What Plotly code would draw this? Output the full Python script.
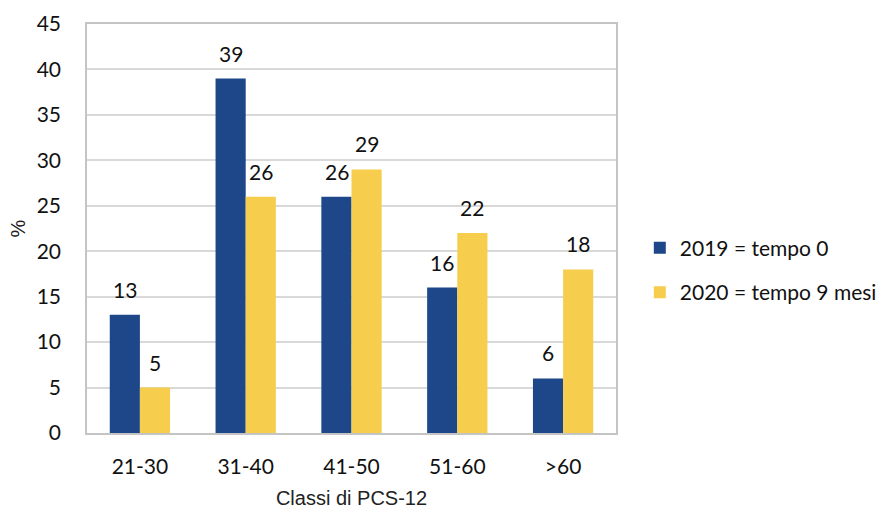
import plotly.graph_objects as go

categories = ["21-30", "31-40", "41-50", "51-60", ">60"]
series_2019 = [13, 39, 26, 16, 6]
series_2020 = [5, 26, 29, 22, 18]
names = ["2019 = tempo 0", "2020 = tempo 9 mesi"]
colors = ["#1D4788", "#F6CD4C"]
y_ticks = [0, 5, 10, 15, 20, 25, 30, 35, 40, 45]

tick_font = dict(family="Lato, Carlito, sans-serif", size=21, color="#111111")
title_font = dict(family="Liberation Sans, Arial", size=20, color="#222222")

fig = go.Figure()
for i, (vals, name, col) in enumerate(zip([series_2019, series_2020], names, colors)):
    fig.add_trace(go.Bar(
        x=categories, y=vals, name=name, marker=dict(color=col, line=dict(width=0)),
        legendgroup=f"g{i}",
    ))

annotations = []
for vals, shift in [(series_2019, -15), (series_2020, 15)]:
    for c, v in zip(categories, vals):
        annotations.append(dict(
            x=c, y=v, text=str(v), showarrow=False, xanchor="center", yanchor="bottom",
            xshift=shift, yshift=11, font=tick_font,
        ))

fig.update_layout(
    width=881, height=509,
    margin=dict(l=87, r=265, t=24, b=76, autoexpand=False),
    paper_bgcolor="white", plot_bgcolor="white",
    barmode="group", bargap=0.43, bargroupgap=0,
    annotations=annotations,
    showlegend=True,
    legend=dict(
        x=1.045, y=0.398, xanchor="left", yanchor="middle",
        font=tick_font, tracegroupgap=14, itemwidth=30,
        bgcolor="rgba(0,0,0,0)",
    ),
    xaxis=dict(
        showline=True, linecolor="#c4c4c4", linewidth=1.5, mirror=True,
        tickfont=tick_font, ticks="outside", ticklen=0, ticklabelstandoff=14,
        automargin=False,
        title=dict(text="Classi di PCS-12", font=title_font, standoff=20),
    ),
    yaxis=dict(
        range=[0, 45], tickvals=y_ticks, showgrid=True, gridcolor="#d9d9d9", gridwidth=1.5,
        showline=True, linecolor="#c4c4c4", linewidth=1.5, mirror=True,
        tickfont=tick_font, ticks="outside", ticklen=0, ticklabelstandoff=20,
        zeroline=False, automargin=False,
        title=dict(text="%", font=title_font, standoff=6),
    ),
)

fig.write_html("out.html")
